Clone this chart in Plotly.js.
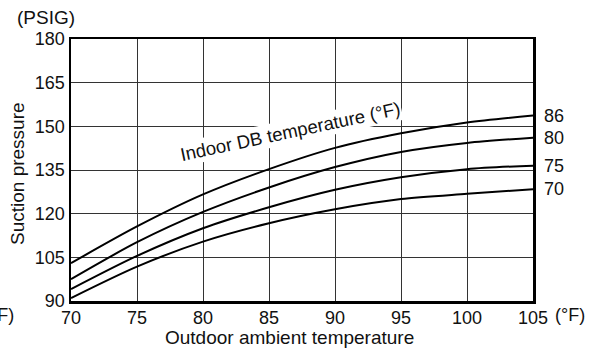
<!DOCTYPE html>
<html>
<head>
<meta charset="utf-8">
<script src="https://cdn.plot.ly/plotly-3.0.1.min.js"></script>
<style>html,body{margin:0;padding:0;background:#fff;}#chart{width:591px;height:348px;}</style>
</head>
<body>
<div id="chart"></div>
<script>
const outdoorTemp = [70, 75, 80, 85, 90, 95, 100, 105];
const indoorLabels = ["86", "80", "75", "70"];
const pressure86 = [103, 115.6, 126.6, 135.3, 142.6, 147.6, 151.3, 153.7];
const pressure80 = [97.5, 110.2, 120.6, 129.0, 136.0, 141.2, 144.3, 146.1];
const pressure75 = [94.1, 105.5, 115.0, 122.2, 128.2, 132.5, 135.3, 136.5];
const pressure70 = [91.0, 101.8, 110.4, 116.7, 121.5, 125.0, 126.8, 128.4];
const seriesValues = [pressure86, pressure80, pressure75, pressure70];

const W = 591, H = 348;
const M = {l: 71, r: 58, t: 39, b: 47};
const pw = W - M.l - M.r, ph = H - M.t - M.b;
const px = x => (x - M.l) / pw;
const py = y => (H - M.b - y) / ph;
const FONT = "Liberation Sans, Arial, sans-serif";
const FS = 18;   // digits / tick labels
const FT = 19;   // titles

const traces = seriesValues.map((vals, i) => ({
  x: outdoorTemp, y: vals, type: 'scatter', mode: 'lines',
  line: {color: '#000', width: 2, shape: 'spline', smoothing: 0.8},
  hoverinfo: 'skip', showlegend: false, name: indoorLabels[i]
}));

const annotations = seriesValues.map((vals, i) => ({
  x: outdoorTemp[outdoorTemp.length - 1], y: vals[vals.length - 1],
  xref: 'x', yref: 'y', text: indoorLabels[i], showarrow: false,
  xanchor: 'left', yanchor: 'middle', xshift: 9,
  font: {family: FONT, size: FS, color: '#111'}
}));

annotations.push(
  {xref: 'paper', yref: 'paper', x: px(46), y: py(18), text: '(PSIG)', showarrow: false,
   xanchor: 'center', yanchor: 'middle', font: {family: FONT, size: FT, color: '#111'}},
  {xref: 'paper', yref: 'paper', x: px(570), y: py(315), text: '(°F)', showarrow: false,
   xanchor: 'center', yanchor: 'middle', font: {family: FONT, size: FS, color: '#111'}},
  {xref: 'paper', yref: 'paper', x: px(16), y: py(315), text: '(°F)', showarrow: false,
   xanchor: 'right', yanchor: 'middle', font: {family: FONT, size: FS, color: '#111'}},
  {xref: 'paper', yref: 'paper', x: px(289), y: py(337), text: 'Outdoor ambient temperature', showarrow: false,
   xanchor: 'center', yanchor: 'middle', font: {family: FONT, size: FT, color: '#111'}},
  {xref: 'paper', yref: 'paper', x: px(17), y: py(174), text: 'Suction pressure', showarrow: false,
   textangle: -90, xanchor: 'center', yanchor: 'middle', font: {family: FONT, size: FT, color: '#111'}},
  {xref: 'paper', yref: 'paper', x: px(290), y: py(131), text: 'Indoor DB temperature (°F)', showarrow: false,
   textangle: -12, xanchor: 'center', yanchor: 'middle', bgcolor: '#fff',
   font: {family: FONT, size: FT - 0.5, color: '#111'}}
);

const axisCommon = {
  showline: true, mirror: true, linecolor: '#000', linewidth: 2.5,
  showgrid: true, gridcolor: '#333', gridwidth: 1,
  zeroline: false, ticks: '', fixedrange: true,
  tickfont: {family: FONT, size: FS, color: '#111'}
};

const layout = {
  width: W, height: H,
  margin: M,
  paper_bgcolor: '#fff', plot_bgcolor: '#fff',
  xaxis: Object.assign({}, axisCommon, {range: [70, 105], dtick: 5, tick0: 70, ticklabelstandoff: -1}),
  yaxis: Object.assign({}, axisCommon, {range: [90, 180], dtick: 15, tick0: 90}),
  annotations: annotations,
  showlegend: false
};

Plotly.newPlot('chart', traces, layout, {staticPlot: true, displayModeBar: false});
</script>
</body>
</html>
